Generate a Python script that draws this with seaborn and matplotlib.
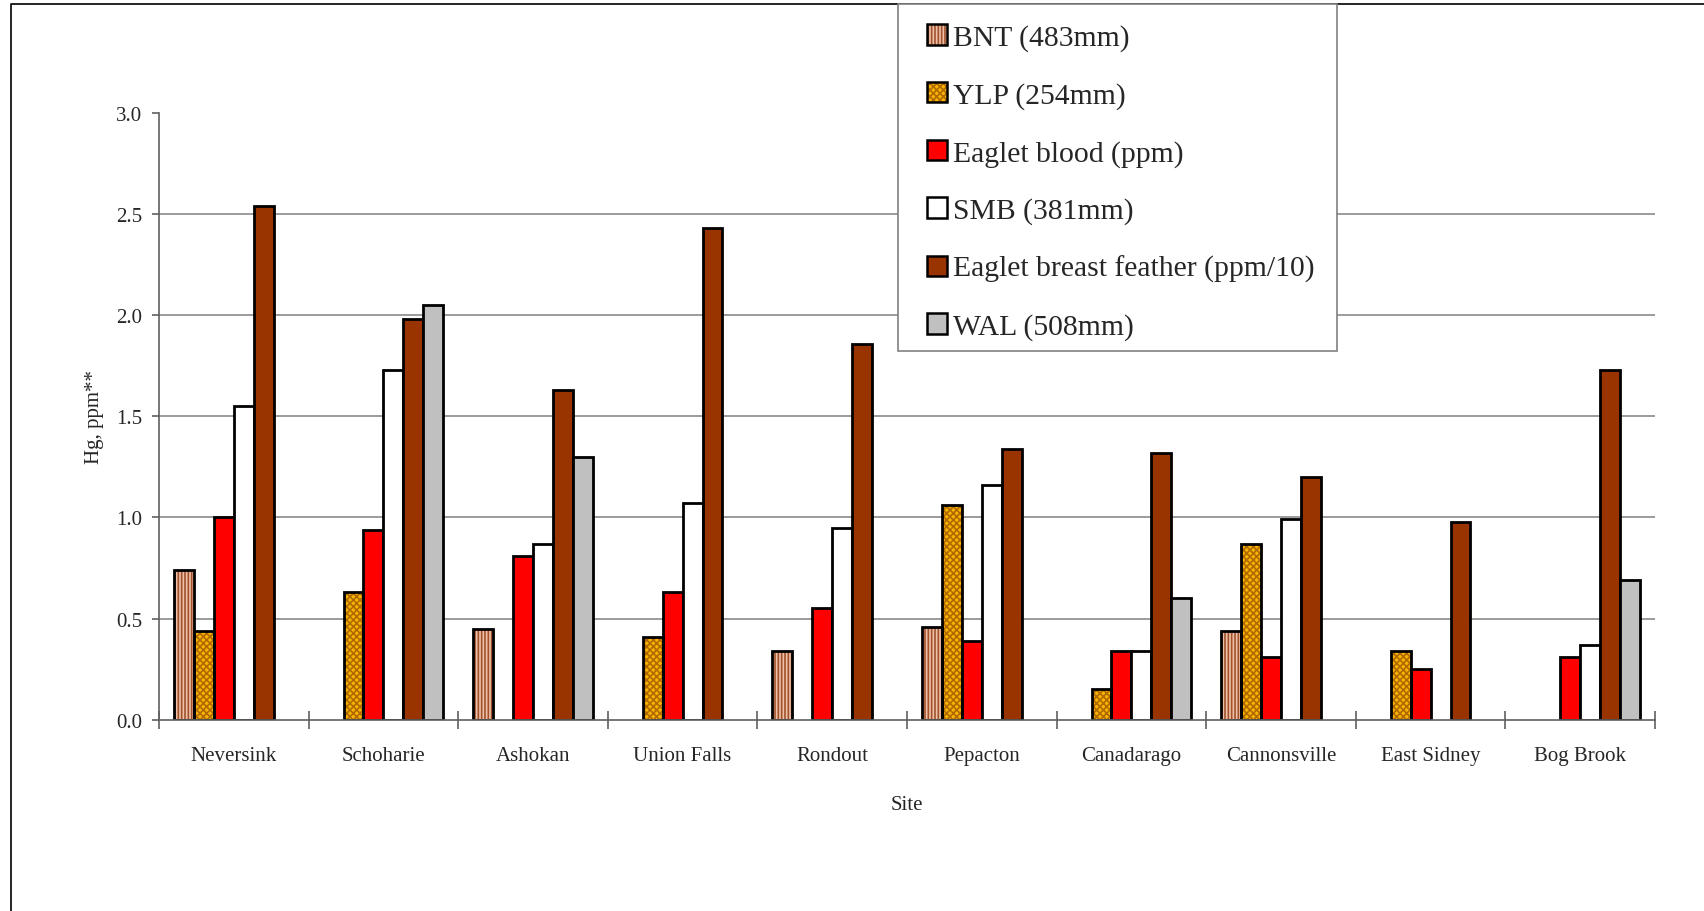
import numpy as np
import pandas as pd
import matplotlib
matplotlib.use("Agg")
import matplotlib.pyplot as plt
import matplotlib.patches as mpatches
from matplotlib.lines import Line2D
from matplotlib.legend_handler import HandlerTuple
import seaborn as sns

nan = np.nan

# Hg concentrations by site (ppm; feather as ppm/10)
sites = ["Neversink", "Schoharie", "Ashokan", "Union Falls", "Rondout",
         "Pepacton", "Canadarago", "Cannonsville", "East Sidney", "Bog Brook"]
bnt = [0.74, nan, 0.45, nan, 0.34, 0.46, nan, 0.44, nan, nan]
ylp = [0.44, 0.63, nan, 0.41, nan, 1.06, 0.15, 0.87, 0.34, nan]
blood = [1.00, 0.94, 0.81, 0.63, 0.55, 0.39, 0.34, 0.31, 0.25, 0.31]
smb = [1.55, 1.73, 0.87, 1.07, 0.95, 1.16, 0.34, 0.99, nan, 0.37]
feather = [2.54, 1.98, 1.63, 2.43, 1.86, 1.34, 1.32, 1.20, 0.98, 1.73]
wal = [nan, 2.05, 1.30, nan, nan, nan, 0.60, nan, nan, 0.69]

series = ["BNT (483mm)", "YLP (254mm)", "Eaglet blood (ppm)", "SMB (381mm)",
          "Eaglet breast feather (ppm/10)", "WAL (508mm)"]
values = [bnt, ylp, blood, smb, feather, wal]

fills = ["#EFC0A8", "#F8B400", "#FF0000", "#FFFFFF", "#993300", "#C0C0C0"]
hatches = ["|||||", "xxxxx", None, None, None, None]
hatch_colors = ["#A0522D", "#B06A00", None, None, None, None]

rows = []
for name, vals in zip(series, values):
    for site, v in zip(sites, vals):
        rows.append({"Site": site, "Series": name, "Hg": v})
df = pd.DataFrame(rows).dropna()

sns.set_theme(style="white")
plt.rcParams["font.family"] = ["Liberation Serif", "DejaVu Serif"]
plt.rcParams["hatch.linewidth"] = 1.2

W, H = 1704, 912
fig = plt.figure(figsize=(W / 100, H / 100), dpi=100)
ax = fig.add_axes([159 / W, 1 - 720.7 / H, (1655 - 159) / W, (720.7 - 114) / H])

sns.barplot(data=df, x="Site", y="Hg", hue="Series", order=sites,
            hue_order=series, palette=dict(zip(series, fills)), saturation=1,
            edgecolor="black", linewidth=2.0, width=0.8, errorbar=None,
            legend=False, ax=ax, zorder=3)

# colored hatch + black outline per bar
for i, cont in enumerate(ax.containers):
    if hatches[i] is None:
        continue
    for p in cont:
        p.set_hatch(hatches[i])
        p.set_edgecolor(hatch_colors[i])
        p.set_linewidth(0)
        ax.add_patch(mpatches.Rectangle((p.get_x(), p.get_y()), p.get_width(),
                                        p.get_height(), fill=False,
                                        edgecolor="black", linewidth=2.0,
                                        zorder=4))

ax.set_xlim(-0.5, len(sites) - 0.5)
ax.set_ylim(0, 3.0)
ax.set_yticks(np.arange(0, 3.01, 0.5))
ax.set_yticklabels([f"{t:.1f}" for t in np.arange(0, 3.01, 0.5)], fontsize=15)
ax.set_xticks(range(len(sites)))
ax.set_xticklabels(sites, fontsize=15)
ax.set_xticks(np.arange(-0.5, len(sites)), minor=True)

ax.yaxis.grid(True, color="#808080", linewidth=1.1, zorder=0)
ax.set_axisbelow(True)
ax.get_ygridlines()[-1].set_visible(False)
ax.get_ygridlines()[0].set_visible(False)

for s in ["top", "right"]:
    ax.spines[s].set_visible(False)
for s in ["left", "bottom"]:
    ax.spines[s].set_color("#606060")
    ax.spines[s].set_linewidth(1.2)
    ax.spines[s].set_zorder(5)

ax.tick_params(axis="y", which="major", direction="out", length=5, width=1.2,
               color="#606060", pad=7, left=True)
ax.tick_params(axis="x", which="major", length=0, pad=18.7, bottom=True)
ax.tick_params(axis="x", which="minor", direction="inout", length=13,
               width=1.2, color="#606060", bottom=True)

ax.set_xlabel("Site", fontsize=15, labelpad=21.5)
ax.set_ylabel("Hg, ppm**", fontsize=15, labelpad=8.5)

# legend (content placed without frame, frame drawn as a box)
handles = []
for i in range(len(series)):
    if hatches[i] is None:
        h = mpatches.Patch(facecolor=fills[i], edgecolor="black", linewidth=1.8)
    else:
        h = (mpatches.Patch(facecolor=fills[i], hatch=hatches[i],
                            edgecolor=hatch_colors[i], linewidth=0),
             mpatches.Patch(fill=False, edgecolor="black", linewidth=1.8))
    handles.append(h)
leg = fig.legend(handles, series, loc="upper left",
                 bbox_to_anchor=(926.7 / W, 1 - 25.3 / H),
                 bbox_transform=fig.transFigure, borderaxespad=0,
                 frameon=False, borderpad=0,
                 prop={"family": ["Liberation Serif"], "size": 21.3},
                 handlelength=0.68, handleheight=0.68, handletextpad=0.2,
                 labelspacing=1.04,
                 handler_map={tuple: HandlerTuple(ndivide=1)})
fig.add_artist(mpatches.Rectangle((897.7 / W, 1 - 352 / H),
                                  (1337 - 897.7) / W, (352 - 5.3) / H,
                                  transform=fig.transFigure, facecolor="white",
                                  edgecolor="#808080", linewidth=1.2,
                                  zorder=leg.get_zorder() - 0.5))

# outer frame (top and left edges)
fx, fy = 10.7 / W, 1 - 5.3 / H
fig.add_artist(Line2D([fx, fx, 1], [0, fy, fy], color="black",
                      linewidth=1.2, transform=fig.transFigure))

fig.savefig("out.png", dpi=100)
